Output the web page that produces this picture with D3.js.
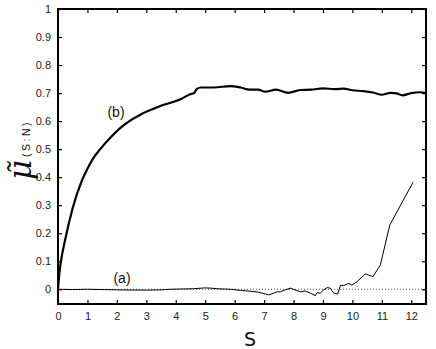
<!DOCTYPE html>
<html><head><meta charset="utf-8">
<script src="https://cdn.jsdelivr.net/npm/d3@7"></script>
<style>
html,body{margin:0;padding:0;background:#fff;}
svg{display:block;}
</style></head>
<body>
<svg id="chart" width="436" height="349"></svg>
<script>
// ---- data ----
const xTicks = [0,1,2,3,4,5,6,7,8,9,10,11,12];
const yTicks = [0,0.1,0.2,0.3,0.4,0.5,0.6,0.7,0.8,0.9,1];
const seriesB_s = [0,0.05,0.1,0.24,0.5,0.82,1.0,1.2,1.45,1.8,2.1,2.45,2.8,3.2,3.5,3.9,4.2,4.49,4.62,4.72,4.85,5.3,5.85,6.2,6.5,6.8,7.04,7.4,7.82,8.23,8.6,9.0,9.4,9.7,10.0,10.37,10.7,11.0,11.3,11.5,11.7,12.0,12.3,12.5];
const seriesB_v = [0,0.06,0.1,0.175,0.29,0.39,0.43,0.468,0.502,0.543,0.574,0.602,0.623,0.642,0.655,0.668,0.68,0.696,0.70,0.715,0.72,0.72,0.725,0.72,0.712,0.712,0.705,0.712,0.701,0.711,0.712,0.717,0.714,0.716,0.71,0.707,0.702,0.694,0.701,0.699,0.692,0.700,0.703,0.700];
const seriesA_s = [0,0.5,1,2,3,3.5,3.8,4.2,4.6,5.0,5.2,5.4,5.85,6.2,6.53,6.8,7.15,7.3,7.44,7.55,7.7,7.89,8.05,8.23,8.4,8.6,8.74,8.8,8.91,9.0,9.14,9.25,9.36,9.5,9.6,9.7,9.87,9.98,10.16,10.44,10.7,10.95,11.27,12.06];
const seriesA_v = [0,-0.001,0,-0.002,-0.003,-0.002,0,0.001,0.002,0.005,0.004,0.002,0,-0.004,-0.007,-0.01,-0.02,-0.015,-0.009,-0.009,-0.003,0.004,-0.002,-0.009,-0.006,-0.015,-0.023,-0.012,-0.014,-0.004,0.006,0.004,-0.013,-0.017,0.015,0.013,0.021,0.015,0.027,0.055,0.045,0.087,0.229,0.382];

const svg = d3.select('#chart');
const L = 58, R = 426, T = 9, B = 304;
const x = d3.scaleLinear().domain([0,12.5]).range([L,R]);
const y = d3.scaleLinear().domain([-0.0525,1]).range([B,T]);

const font = "'Liberation Sans', Arial, sans-serif";

// zero dotted line
svg.append('line').attr('x1',x(0)).attr('x2',x(12.5)).attr('y1',y(0)).attr('y2',y(0))
  .attr('stroke','#555').attr('stroke-width',1).attr('stroke-dasharray','1,2');

const line = d3.line().x(d=>x(d[0])).y(d=>y(d[1]));
const dataA = seriesA_s.map((s,i)=>[s,seriesA_v[i]]);
const dataB = seriesB_s.map((s,i)=>[s,seriesB_v[i]]);

svg.append('path').datum(dataA).attr('d',line).attr('fill','none').attr('stroke','#000').attr('stroke-width',1);
svg.append('path').datum(dataB).attr('d',d3.line().curve(d3.curveMonotoneX).x(d=>x(d[0])).y(d=>y(d[1])))
  .attr('fill','none').attr('stroke','#000').attr('stroke-width',2.2);

// axes (inside ticks)
const tl = 4;
const gB = svg.append('g').attr('transform',`translate(0,${B})`)
  .call(d3.axisBottom(x).tickValues(xTicks).tickSize(-tl).tickPadding(8).tickFormat(d3.format('d')));
const gT = svg.append('g').attr('transform',`translate(0,${T})`)
  .call(d3.axisTop(x).tickValues(xTicks).tickSize(-tl).tickFormat(''));
const gL = svg.append('g').attr('transform',`translate(${L},0)`)
  .call(d3.axisLeft(y).tickValues(yTicks).tickSize(-tl).tickPadding(7).tickFormat(d=>d===0?'0':(d===1?'1':d3.format('.1f')(d))));
const gR = svg.append('g').attr('transform',`translate(${R},0)`)
  .call(d3.axisRight(y).tickValues(yTicks).tickSize(-tl).tickFormat(''));
[gB,gT,gL,gR].forEach(g=>{
  g.select('.domain').remove();
  g.selectAll('.tick line').attr('stroke','#000').attr('stroke-width',1.2);
  g.selectAll('text').attr('font-family',font).attr('font-size',11).attr('fill','#222');
});
// frame
svg.append('rect').attr('x',L).attr('y',T).attr('width',R-L).attr('height',B-T)
  .attr('fill','none').attr('stroke','#000').attr('stroke-width',2);

// axis titles
svg.append('text').attr('x',250).attr('y',346).attr('text-anchor','middle')
  .attr('font-family',"'DejaVu Sans', sans-serif").attr('font-size',19).attr('fill','#111').text('S');

const yl = svg.append('text').attr('transform','translate(31,150) rotate(-90)').attr('text-anchor','middle').attr('fill','#111');
yl.append('tspan').attr('font-family',"'DejaVu Serif', serif").attr('font-style','italic').attr('font-size',31).text('\u03BC\u0303');
yl.append('tspan').attr('font-family',font).attr('font-size',10.5).attr('letter-spacing',2.5).attr('dx',3).attr('dy',-1).text('(S:N)');

// labels
svg.append('text').attr('x',116).attr('y',117).attr('text-anchor','middle').attr('font-family',font).attr('font-size',14).attr('fill','#111').text('(b)');
svg.append('text').attr('x',122).attr('y',283).attr('text-anchor','middle').attr('font-family',font).attr('font-size',14).attr('fill','#111').text('(a)');
</script>
</body></html>
